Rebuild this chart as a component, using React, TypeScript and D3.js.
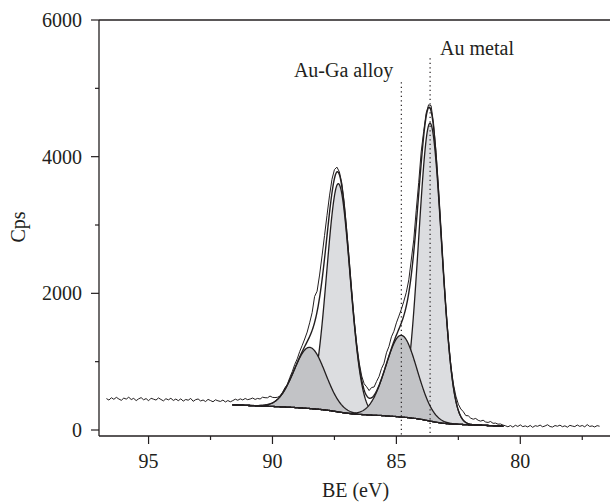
import React from "react";
import * as d3 from "d3";

// ---------- axes ----------
const xTicksMajor = [95, 90, 85, 80];
const xTicksMinor = [92.5, 87.5, 82.5, 77.5];
const yTicksMajor = [0, 2000, 4000, 6000];
const yTicksMinor = [1000, 3000, 5000];
const xLabel = "BE (eV)";
const yLabel = "Cps";

// ---------- fitted components (Gaussian parameters) ----------
const compNames = ["Au 4f5/2 metal", "Au 4f7/2 metal", "Au 4f5/2 Au-Ga", "Au 4f7/2 Au-Ga"];
const compCenters = [87.34, 83.64, 88.5, 84.8];
const compHeights = [3340, 4360, 895, 1195];
const compSigmas = [0.47, 0.46, 0.63, 0.63];
const compKinds = ["metal", "metal", "alloy", "alloy"];

// ---------- background (Shirley / linear mix) ----------
const bgLimits = [91.6, 80.7]; // high BE end, low BE end
const bgValues = [368, 57];
const shirleyShare = 0.5;

// ---------- measured spectrum (fit envelope + residuals, every 0.1 eV from 96.7 eV) ----------
const dataStartBE = 96.7;
const dataStepBE = 0.1;
const residuals = [
  92, 70, 104, 81, 110, 86, 66, 99, 84, 112,
  78, 95, 62, 88, 106, 74, 92, 60, 97, 83,
  70, 101, 79, 58, 90, 73, 96, 64, 85, 61,
  88, 55, 79, 68, 94, 52, 76, 86, 57, 71,
  48, 80, 63, 45, 74, 59, 50, 70, 42, 63,
  45,
  62, 85, 70, 92, 78, 100, 84, 95, 110, 90,
  105, 95, 120, 108, 100, 115, 80, 55, 30, 10,
  15, 25, 10, 35, 40, 60, 55, 80, 90, 110,
  140, 200, 260, 380, 300, 330, 350, 340, 300, 250,
  200, 130, 70, 40, 50,
  50, 35, 45, 25, 15,
  25, 40, 60, 90, 130, 110, 150, 120, 140, 130,
  150, 120, 160, 140, 170, 150, 180, 190, 200, 210,
  200, 190, 220, 180, 210, 170, 170,
  70, 50, 40, 80,
  60, 40, 25, 10, -20, 0, 20,
  20, 40, 70, 90, 110, 125, 100, 115, 90, 80, 95, 70,
  60, 75, 50, 45, 60, 35, 40, 25, 30, 15,
  5, -10, 8, -15, 12, -5, 18, -8, 3, -12,
  10, -18, 6, -3, 15, -10, 2, 20, -6, -14,
  8, -2, 14, -9, 4, -16, 11, 0, -7, 16,
  -4, 9, -11, 22, -5, 3, -13, 7, -2,
];

// ---------- annotations ----------
const markerLabels = ["Au-Ga alloy", "Au metal"];
const markerBE = [84.8, 83.64];
const markerTop = [5090, 5440];

const W = 610;
const H = 502;
const INK = "#231f20";
const FONT = "'Liberation Serif', 'Times New Roman', serif";

function erf(v: number) {
  const s = Math.sign(v);
  const a = Math.abs(v);
  const t = 1 / (1 + 0.3275911 * a);
  const y =
    1 -
    ((((1.061405429 * t - 1.453152027) * t + 1.421413741) * t - 0.284496736) * t + 0.254829592) *
      t *
      Math.exp(-a * a);
  return s * y;
}

function gauss(k: number, e: number) {
  const d = (e - compCenters[k]) / compSigmas[k];
  return compHeights[k] * Math.exp(-0.5 * d * d);
}

function cumArea(e: number) {
  const lo = bgLimits[1];
  let s = 0;
  for (let k = 0; k < compCenters.length; k++) {
    const sg = compSigmas[k];
    const c = compCenters[k];
    s +=
      compHeights[k] *
      sg *
      Math.sqrt(Math.PI / 2) *
      (erf((e - c) / (sg * Math.SQRT2)) - erf((lo - c) / (sg * Math.SQRT2)));
  }
  return s;
}

const totalArea = cumArea(bgLimits[0]);

function background(e: number) {
  if (e >= bgLimits[0]) return bgValues[0];
  if (e <= bgLimits[1]) return bgValues[1];
  const shirley = cumArea(e) / totalArea;
  const linear = (e - bgLimits[1]) / (bgLimits[0] - bgLimits[1]);
  const frac = shirleyShare * shirley + (1 - shirleyShare) * linear;
  return bgValues[1] + (bgValues[0] - bgValues[1]) * frac;
}

function sumComps(e: number) {
  let s = 0;
  for (let k = 0; k < compCenters.length; k++) s += gauss(k, e);
  return s;
}

export default function App() {
  const x = d3.scaleLinear().domain([97, 76.3]).range([99, 612]);
  const y = d3.scaleLinear().domain([0, 6000]).range([430, 20]);
  const axisY = 436;
  const axisX = 99;
  const right = 612;

  const fitGrid = d3.range(bgLimits[0], bgLimits[1] - 0.0001, -0.02);

  const area = d3
    .area<{ e: number; lo: number; hi: number }>()
    .x((d) => x(d.e))
    .y0((d) => y(d.lo))
    .y1((d) => y(d.hi));

  const line = d3
    .line<{ e: number; v: number }>()
    .x((d) => x(d.e))
    .y((d) => y(d.v));

  const compPaths = compCenters.map((_, k) =>
    area(fitGrid.map((e) => ({ e, lo: background(e), hi: background(e) + gauss(k, e) })))
  );
  const envelopePath = line(fitGrid.map((e) => ({ e, v: background(e) + sumComps(e) })));
  const bgPath = line(fitGrid.map((e) => ({ e, v: background(e) })));

  const dataPts = residuals.map((r, i) => {
    const e = dataStartBE - i * dataStepBE;
    return { e, v: background(e) + sumComps(e) + r };
  });
  const dataPath = line(dataPts);

  const order = [0, 1, 2, 3];
  const fillOf = (k: number) => (compKinds[k] === "metal" ? "#dcdde0" : "#c2c3c6");

  return (
    <svg
      width={W}
      height={H}
      style={{ position: "absolute", left: 0, top: 0, display: "block", background: "#fff" }}
      fontFamily={FONT}
    >
      {/* components */}
      {order.map((k) => (
        <path
          key={compNames[k]}
          d={compPaths[k] || ""}
          fill={fillOf(k)}
          stroke={INK}
          strokeWidth={1.3}
          strokeLinejoin="round"
        />
      ))}
      <path d={bgPath || ""} fill="none" stroke={INK} strokeWidth={1.3} />
      <path d={envelopePath || ""} fill="none" stroke={INK} strokeWidth={1.4} />
      <path d={dataPath || ""} fill="none" stroke={INK} strokeWidth={1} strokeLinejoin="round" />

      {/* marker lines */}
      {markerBE.map((e, i) => (
        <line
          key={markerLabels[i]}
          x1={x(e)}
          x2={x(e)}
          y1={y(markerTop[i])}
          y2={axisY}
          stroke={INK}
          strokeWidth={1.2}
          strokeDasharray="1.2 3.3"
        />
      ))}
      <text x={x(markerBE[0]) - 8} y={77} fontSize={20} fill={INK} textAnchor="end">
        {markerLabels[0]}
      </text>
      <text x={x(markerBE[1]) + 10} y={55} fontSize={20} fill={INK} textAnchor="start">
        {markerLabels[1]}
      </text>

      {/* frame */}
      <line x1={axisX} x2={right} y1={y(6000)} y2={y(6000)} stroke={INK} strokeWidth={1.3} />
      <line x1={axisX} x2={axisX} y1={y(6000)} y2={axisY} stroke={INK} strokeWidth={1.3} />
      <line x1={axisX} x2={right} y1={axisY} y2={axisY} stroke={INK} strokeWidth={1.3} />

      {/* y ticks */}
      {yTicksMajor.map((v) => (
        <g key={"ym" + v}>
          <line x1={axisX - 8} x2={axisX} y1={y(v)} y2={y(v)} stroke={INK} strokeWidth={1.2} />
          <text x={82} y={y(v)} dy="0.35em" fontSize={20} fill={INK} textAnchor="end">
            {v}
          </text>
        </g>
      ))}
      {yTicksMinor.map((v) => (
        <line key={"yn" + v} x1={axisX - 4} x2={axisX} y1={y(v)} y2={y(v)} stroke={INK} strokeWidth={1.2} />
      ))}

      {/* x ticks */}
      {xTicksMajor.map((v) => (
        <g key={"xm" + v}>
          <line x1={x(v)} x2={x(v)} y1={axisY} y2={axisY + 8} stroke={INK} strokeWidth={1.2} />
          <text x={x(v)} y={468} fontSize={20} fill={INK} textAnchor="middle">
            {v}
          </text>
        </g>
      ))}
      {xTicksMinor.map((v) => (
        <line key={"xn" + v} x1={x(v)} x2={x(v)} y1={axisY} y2={axisY + 4} stroke={INK} strokeWidth={1.2} />
      ))}

      {/* axis titles */}
      <text x={(axisX + right) / 2} y={497} fontSize={20} fill={INK} textAnchor="middle">
        {xLabel}
      </text>
      <text transform={`translate(25, 227) rotate(-90)`} fontSize={20} fill={INK} textAnchor="middle">
        {yLabel}
      </text>
    </svg>
  );
}
